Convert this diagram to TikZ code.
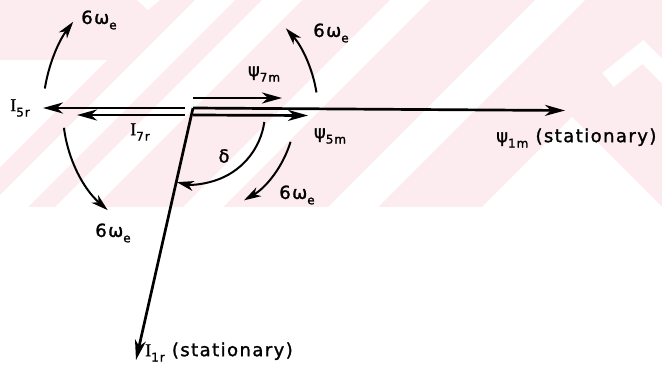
\documentclass[tikz,border=0pt]{standalone}
\usepackage{fontspec}
\setmainfont{DejaVu Sans}[LetterSpace=8, FakeBold=1.4]
\newfontfamily\romI{Liberation Serif}[FakeBold=1.2]
\usetikzlibrary{arrows.meta}
\definecolor{wmpink}{RGB}{252,235,239}
\newcommand{\lsub}[1]{\raisebox{-0.3em}{\fontsize{12pt}{12pt}\selectfont #1}}
\begin{document}
\begin{tikzpicture}[x=1pt,y=-1pt,
  lbl/.style={font=\fontsize{18pt}{20pt}\selectfont, inner sep=0pt},
  vec/.style={line width=2.7pt, -{Stealth[length=20pt,width=11pt,inset=6pt]}},
  rot/.style={line width=2pt, -{Stealth[length=17pt,width=10pt,inset=5pt]}}]
\useasboundingbox (0,0) rectangle (662,367);
% watermark background
\fill[wmpink] (0,0) rectangle (662,207);
\begin{scope}
  \clip (0,0) rectangle (662,207);
  \fill[white] (0,60) -- (107,60) -- (0,167) -- cycle;
  \fill[white] (195,0) -- (235,0) -- (28,207) -- (-12,207) -- cycle;
  \fill[white] (262,0) -- (302,0) -- (95,207) -- (55,207) -- cycle;
  \fill[white] (390,0) -- (430,0) -- (223,207) -- (183,207) -- cycle;
  \fill[white] (535,0) -- (585,0) -- (378,207) -- (328,207) -- cycle;
  \fill[white] (572,117) -- (662,207) -- (482,207) -- cycle;
  \fill[white] (137,0) -- (160,0) -- (148,10) -- cycle;
  \draw[white, line width=18pt, line join=miter] (608,80) -- (643,52) -- (690,99);
\end{scope}
% points
\coordinate (O) at (193,108);
\coordinate (Ob) at (193,115);
\coordinate (C) at (193,112);
\coordinate (L1) at (185,108);
\coordinate (L2) at (185,115);
\coordinate (T5r) at (43,108);
\coordinate (T7r) at (77,115);
\coordinate (T1m) at (565,110.5);
\coordinate (T5m) at (308,115.5);
\coordinate (S7m) at (193,98);
\coordinate (T7m) at (282,98);
\coordinate (T1r) at (136,360);
% phasors
\draw[vec] (L1) -- (T5r);
\draw[vec] (L2) -- (T7r);
\draw[vec] (O) -- (T1m);
\draw[vec] (Ob) -- (T5m);
\draw[vec] (S7m) -- (T7m);
\draw[vec] (O) -- (T1r);
% angle delta
\draw[rot] ([shift={(8:72)}]C) arc[start angle=8, end angle=103, radius=72];
% rotation arcs
\draw[rot] ([shift={(-171:150)}]C) arc[start angle=-171, end angle=-143, radius=150];
\draw[rot] ([shift={(-187:130)}]C) arc[start angle=-187, end angle=-229, radius=130];
\draw[rot] ([shift={(-9:125)}]C) arc[start angle=-9, end angle=-42, radius=125];
\draw[rot] ([shift={(17:102)}]C) arc[start angle=17, end angle=60, radius=102];
% labels
\node[lbl] (lw1) at (99,20) {6ω\lsub{e}};
\node[lbl] (lw2) at (331,33) {6ω\lsub{e}};
\node[lbl] (lw3) at (297,195) {6ω\lsub{e}};
\node[lbl] (lw4) at (113,233) {6ω\lsub{e}};
\node[lbl] (lp7) at (264,74) {ψ\lsub{7m}};
\node[lbl] (lp5) at (330,136) {ψ\lsub{5m}};
\node[lbl, anchor=west] (lp1) at (496,138) {ψ\lsub{1m} (stationary)};
\node[lbl] (li5) at (20,108) {{\romI I}\lsub{5r}};
\node[lbl] (li7) at (140,132) {{\romI I}\lsub{7r}};
\node[lbl, anchor=west] (li1) at (145,352) {{\romI I}\lsub{1r} (stationary)};
\node[lbl] (ld) at (224,156) {δ};
\end{tikzpicture}
\end{document}
